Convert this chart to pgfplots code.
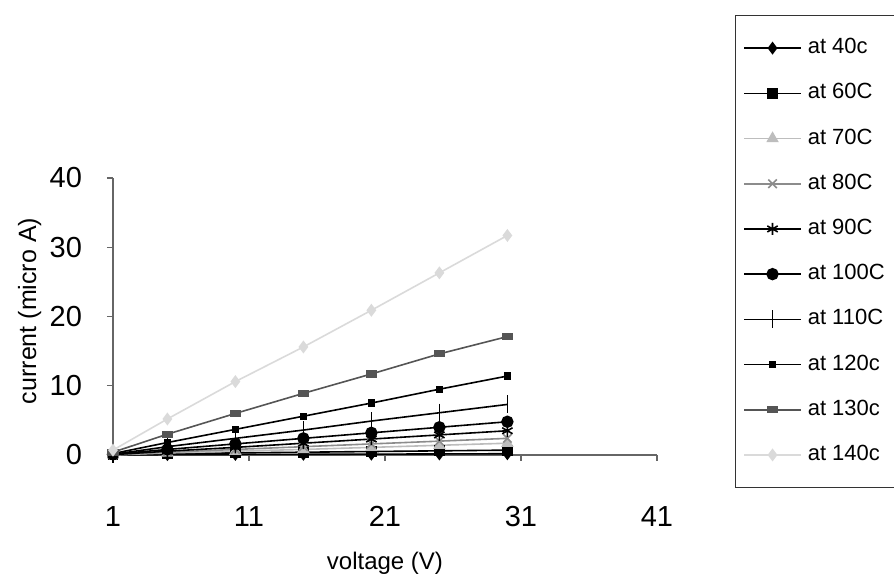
\documentclass[border=0pt]{standalone}
\usepackage{pgfplots}
\pgfplotsset{compat=1.18}
\usepackage{fontspec}
\setmainfont{Liberation Sans}
\definecolor{lg}{HTML}{BDBDBD}
\definecolor{mg}{HTML}{8C8C8C}
\definecolor{dg}{HTML}{555555}
\definecolor{vlg}{HTML}{DADADA}
\begin{document}
\begin{tikzpicture}
\begin{axis}[
  scale only axis,
  width=272pt, height=138.5pt,
  xmin=1, xmax=41, ymin=0, ymax=40,
  xtick={1,11,21,31,41}, ytick={0,10,20,30,40},
  axis x line=bottom, axis y line=left,
  axis line style={-, black!60, line width=0.6pt},
  x axis line style={-}, y axis line style={-},
  tick align=outside, major tick length=3pt,
  tick style={black!60, line width=0.6pt},
  /pgf/number format/assume math mode=true,
  ticklabel style={font=\fontsize{14.5}{16}\selectfont},
  xticklabel style={yshift=-19pt},
  yticklabel style={xshift=-9pt},
  xlabel={voltage (V)}, ylabel={current (micro A)},
  xlabel style={font=\fontsize{12}{14}\selectfont, at={(axis description cs:0.5,-0.39)}, anchor=center},
  ylabel style={font=\fontsize{12.5}{14}\selectfont, at={(axis description cs:-0.153,0.52)}, anchor=center},
  clip=false,
  legend cell align=left,
  legend style={at={(rel axis cs:1.143,1.588)}, anchor=north west,
    draw=black!80, line width=0.5pt, font=\fontsize{11}{13}\selectfont,
    row sep=7.1pt, inner ysep=8.5pt, inner xsep=4pt,
    nodes={text height=7.5pt, text depth=2pt, inner ysep=3pt, inner xsep=3pt}},
  legend image code/.code={\draw[mark repeat=2,mark phase=2] plot coordinates {(0cm,0cm)(0.5cm,0cm)(1cm,0cm)};},
  every axis plot/.append style={line width=0.8pt},
]
\coordinate (bbsw) at (rel axis cs:-0.2077,-0.462);
\coordinate (bbne) at (rel axis cs:1.4357,1.6426);
% at 40c
\addplot[black, mark=diamond*, mark size=2.6pt] coordinates {(1,0) (5,0.05) (10,0.08) (15,0.1) (20,0.12) (25,0.15) (30,0.18)};
\addlegendentry{at 40c}
% at 60C
\addplot[black, mark=square*, mark size=2.3pt] coordinates {(1,0) (5,0.2) (10,0.3) (15,0.4) (20,0.5) (25,0.6) (30,0.7)};
\addlegendentry{at 60C}
% at 70C
\addplot[lg, mark=triangle*, mark size=2.8pt] coordinates {(1,0) (5,0.3) (10,0.55) (15,0.8) (20,1.1) (25,1.4) (30,1.7)};
\addlegendentry{at 70C}
% at 80C
\addplot[mg, mark=x, mark size=3pt] coordinates {(1,0) (5,0.4) (10,0.8) (15,1.2) (20,1.6) (25,2.0) (30,2.4)};
\addlegendentry{at 80C}
% at 90C
\addplot[black, mark=asterisk, mark size=3pt] coordinates {(1,0.05) (5,0.55) (10,1.1) (15,1.7) (20,2.3) (25,2.9) (30,3.5)};
\addlegendentry{at 90C}
% at 100C
\addplot[black, mark=*, mark size=2.7pt] coordinates {(1,0.1) (5,0.8) (10,1.6) (15,2.4) (20,3.2) (25,4.0) (30,4.8)};
\addlegendentry{at 100C}
% at 110C
\addplot[black, mark=|, mark size=4.5pt] coordinates {(1,0.1) (5,1.2) (10,2.4) (15,3.6) (20,4.9) (25,6.1) (30,7.3)};
\addlegendentry{at 110C}
% at 120c
\addplot[black, mark=square*, mark size=1.4pt] coordinates {(1,0.2) (5,1.8) (10,3.7) (15,5.6) (20,7.5) (25,9.5) (30,11.4)};
\addlegendentry{at 120c}
% at 130c
\addplot[dg, mark=square*, mark size=1.4pt, mark options={xscale=1.7}] coordinates {(1,0.4) (5,3.0) (10,6.0) (15,8.9) (20,11.7) (25,14.6) (30,17.1)};
\addlegendentry{at 130c}
% at 140c
\addplot[vlg, mark=diamond*, mark size=2.6pt] coordinates {(1,0.7) (5,5.2) (10,10.6) (15,15.6) (20,20.9) (25,26.3) (30,31.7)};
\addlegendentry{at 140c}
\end{axis}
\pgfresetboundingbox
\useasboundingbox (bbsw) rectangle (bbne);
\end{tikzpicture}
\end{document}
